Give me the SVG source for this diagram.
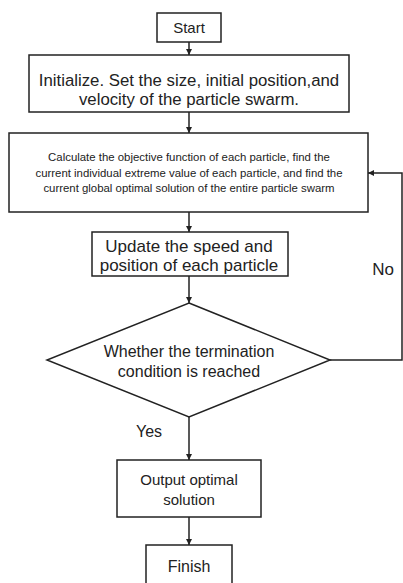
<svg xmlns="http://www.w3.org/2000/svg" width="403" height="583" viewBox="0 0 403 583">
<style>
.box{fill:#fff;stroke:#222;stroke-width:1.5}
.t{font-family:"Liberation Sans",Arial,sans-serif;fill:#222;text-anchor:middle}
.c{fill:none;stroke:#222;stroke-width:1.5}
</style>
<defs>
<marker id="ah" viewBox="0 0 10 10" refX="10" refY="5" markerWidth="6" markerHeight="6" orient="auto" markerUnits="userSpaceOnUse">
<path d="M0,0 L10,5 L0,10 z" fill="#222"/>
</marker>
</defs>
<rect width="403" height="583" fill="#fff"/>
<g id="connectors">
<line class="c" x1="189" y1="42" x2="189" y2="55" marker-end="url(#ah)"/>
<line class="c" x1="189" y1="112" x2="189" y2="133" marker-end="url(#ah)"/>
<line class="c" x1="189" y1="212" x2="189" y2="232" marker-end="url(#ah)"/>
<line class="c" x1="189" y1="276" x2="189" y2="303" marker-end="url(#ah)"/>
<line class="c" x1="189" y1="417" x2="189" y2="460" marker-end="url(#ah)"/>
<line class="c" x1="189" y1="517" x2="189" y2="545" marker-end="url(#ah)"/>
<polyline class="c" points="330,360 402,360 402,173 368,173" marker-end="url(#ah)"/>
<text class="t" x="383" y="275" font-size="17">No</text>
<text class="t" x="149" y="437" font-size="16">Yes</text>
</g>
<g id="start">
<rect class="box" x="157" y="13" width="64" height="29"/>
<text class="t" x="189" y="33" font-size="15">Start</text>
</g>
<g id="init">
<rect class="box" x="29" y="55" width="320" height="57"/>
<text class="t" x="189" y="86" font-size="16.8">Initialize. Set the size, initial position,and</text>
<text class="t" x="189" y="104.5" font-size="16.8">velocity of the particle swarm.</text>
</g>
<g id="calc">
<rect class="box" x="9" y="133" width="359" height="79"/>
<text class="t" x="189" y="161" font-size="11.4">Calculate the objective function of each particle, find the</text>
<text class="t" x="189" y="176.5" font-size="11.4">current individual extreme value of each particle, and find the</text>
<text class="t" x="189" y="192" font-size="11.4">current global optimal solution of the entire particle swarm</text>
</g>
<g id="update">
<rect class="box" x="92" y="232" width="196" height="44"/>
<text class="t" x="189" y="252" font-size="17">Update the speed and</text>
<text class="t" x="189" y="270.5" font-size="17">position of each particle</text>
</g>
<g id="decision">
<polygon class="box" points="189,303 330,360 189,417 47,360"/>
<text class="t" x="189" y="357" font-size="16">Whether the termination</text>
<text class="t" x="189" y="377" font-size="16">condition is reached</text>
</g>
<g id="output">
<rect class="box" x="117" y="460" width="144" height="57"/>
<text class="t" x="189" y="485" font-size="15">Output optimal</text>
<text class="t" x="189" y="505" font-size="15">solution</text>
</g>
<g id="finish">
<rect class="box" x="146" y="545" width="86" height="40"/>
<text class="t" x="189" y="572" font-size="16">Finish</text>
</g>
</svg>
